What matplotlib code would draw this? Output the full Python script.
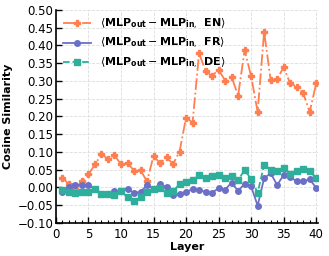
import matplotlib
matplotlib.use("Agg")
import matplotlib.pyplot as plt
from matplotlib.ticker import MultipleLocator

layers = list(range(1, 41))
en = [0.027, 0.009, -0.004, 0.018, 0.037, 0.065, 0.093, 0.081, 0.091, 0.065,
      0.070, 0.047, 0.049, 0.017, 0.089, 0.068, 0.085, 0.066, 0.101, 0.197,
      0.183, 0.378, 0.328, 0.314, 0.332, 0.301, 0.311, 0.259, 0.387, 0.313,
      0.213, 0.439, 0.302, 0.305, 0.339, 0.293, 0.284, 0.266, 0.213, 0.293]
fr = [-0.012, 0.002, 0.008, 0.006, 0.006, -0.005, -0.017, -0.017, -0.011, -0.011,
      -0.003, -0.016, -0.012, 0.006, -0.004, 0.010, 0.001, -0.021, -0.019, -0.012,
      -0.005, -0.008, -0.012, -0.015, -0.002, -0.006, 0.014, -0.010, 0.011, 0.003,
      -0.051, 0.026, 0.040, 0.007, 0.035, 0.030, 0.017, 0.017, 0.023, -0.001]
de = [-0.008, -0.012, -0.015, -0.012, -0.013, -0.004, -0.017, -0.017, -0.022, -0.010,
      -0.028, -0.037, -0.026, -0.013, -0.004, -0.001, -0.015, -0.010, 0.009, 0.016,
      0.022, 0.036, 0.028, 0.031, 0.036, 0.026, 0.031, 0.021, 0.049, 0.024,
      -0.015, 0.064, 0.050, 0.046, 0.055, 0.039, 0.046, 0.053, 0.047, 0.026]

labels = [
    r"$\langle\mathbf{MLP}_{\mathbf{out}}-\mathbf{MLP}_{\mathbf{in},}\ \,\mathbf{EN}\rangle$",
    r"$\langle\mathbf{MLP}_{\mathbf{out}}-\mathbf{MLP}_{\mathbf{in},}\ \,\mathbf{FR}\rangle$",
    r"$\langle\mathbf{MLP}_{\mathbf{out}}-\mathbf{MLP}_{\mathbf{in},}\ \,\mathbf{DE}\rangle$",
]

fig = plt.figure(figsize=(3.29, 2.56), dpi=100)
ax = fig.add_axes([0.170, 0.129, 0.797, 0.832])

c_en = "#FF7F50"
c_fr = "#6B70C6"
c_de = "#2FAE9C"

ax.plot(layers, en, linestyle="-.", marker="P", color=c_en, markersize=5, linewidth=1.3, label=labels[0])
ax.plot(layers, fr, linestyle="-", marker="o", color=c_fr, markersize=4, linewidth=1.3, label=labels[1])
ax.plot(layers, de, linestyle="--", marker="s", color=c_de, markersize=4.5, linewidth=1.3, label=labels[2])

ax.set_xlim(0, 40.3)
ax.set_ylim(-0.10, 0.50)
ax.xaxis.set_major_locator(MultipleLocator(5))
ax.xaxis.set_minor_locator(MultipleLocator(1))
ax.yaxis.set_major_locator(MultipleLocator(0.05))
ax.tick_params(axis="both", which="both", direction="in", labelsize=8.5)
ax.tick_params(axis="both", which="major", length=4, width=1)
ax.tick_params(axis="x", which="minor", length=2.5, width=0.8)
ax.tick_params(axis="y", which="major", pad=2)
ax.grid(True, linestyle="--", color="#dddddd", linewidth=0.6)
ax.set_axisbelow(True)
for s in ["top", "right"]:
    ax.spines[s].set_visible(False)
for s in ["left", "bottom"]:
    ax.spines[s].set_linewidth(1.2)

ax.set_xlabel("Layer", fontsize=8, fontweight="bold", labelpad=1)
ax.set_ylabel("Cosine Similarity", fontsize=8, fontweight="bold")
ax.yaxis.set_label_coords(-0.165, 0.5)
ax.legend(loc="upper left", frameon=False, fontsize=8, handlelength=2.6,
          borderaxespad=0.2, labelspacing=0.4, bbox_to_anchor=(0.0, 1.0))

fig.savefig("out.png", dpi=100)
